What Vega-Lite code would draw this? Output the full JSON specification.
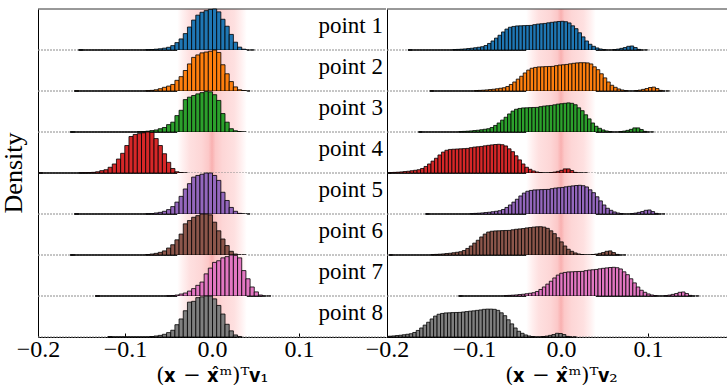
{
"$schema":"https://vega.github.io/schema/vega-lite/v6.json",
"background":"white",
"padding":{"left":0,"top":8,"right":0,"bottom":0},
"config":{"view":{"stroke":null},"font":"Liberation Serif","axis":{"grid":false}},
"spacing":-24,
"datasets":{
"v1":[
{"p":"point 1","x":-0.1536,"d":0.002},{"p":"point 1","x":-0.0768,"d":0.008},{"p":"point 1","x":-0.072,"d":0.012},{"p":"point 1","x":-0.0672,"d":0.02},{"p":"point 1","x":-0.0624,"d":0.03},{"p":"point 1","x":-0.0576,"d":0.045},{"p":"point 1","x":-0.0528,"d":0.066},{"p":"point 1","x":-0.048,"d":0.107},{"p":"point 1","x":-0.0432,"d":0.18},{"p":"point 1","x":-0.0384,"d":0.27},{"p":"point 1","x":-0.0336,"d":0.4},{"p":"point 1","x":-0.0288,"d":0.56},{"p":"point 1","x":-0.024,"d":0.73},{"p":"point 1","x":-0.0192,"d":0.85},{"p":"point 1","x":-0.0144,"d":0.92},{"p":"point 1","x":-0.0096,"d":0.96},{"p":"point 1","x":-0.0048,"d":0.99},{"p":"point 1","x":0,"d":1.0},{"p":"point 1","x":0.0048,"d":0.93},{"p":"point 1","x":0.0096,"d":0.75},{"p":"point 1","x":0.0144,"d":0.58},{"p":"point 1","x":0.0192,"d":0.38},{"p":"point 1","x":0.024,"d":0.19},{"p":"point 1","x":0.0288,"d":0.07},{"p":"point 1","x":0.0336,"d":0.02},{"p":"point 1","x":0.0432,"d":0.002},
{"p":"point 2","x":-0.1584,"d":0.002},{"p":"point 2","x":-0.0768,"d":0.008},{"p":"point 2","x":-0.072,"d":0.015},{"p":"point 2","x":-0.0672,"d":0.03},{"p":"point 2","x":-0.0624,"d":0.056},{"p":"point 2","x":-0.0576,"d":0.09},{"p":"point 2","x":-0.0528,"d":0.12},{"p":"point 2","x":-0.048,"d":0.16},{"p":"point 2","x":-0.0432,"d":0.26},{"p":"point 2","x":-0.0384,"d":0.35},{"p":"point 2","x":-0.0336,"d":0.5},{"p":"point 2","x":-0.0288,"d":0.66},{"p":"point 2","x":-0.024,"d":0.82},{"p":"point 2","x":-0.0192,"d":0.88},{"p":"point 2","x":-0.0144,"d":0.93},{"p":"point 2","x":-0.0096,"d":0.95},{"p":"point 2","x":-0.0048,"d":0.97},{"p":"point 2","x":0,"d":1.0},{"p":"point 2","x":0.0048,"d":0.94},{"p":"point 2","x":0.0096,"d":0.64},{"p":"point 2","x":0.0144,"d":0.42},{"p":"point 2","x":0.0192,"d":0.23},{"p":"point 2","x":0.024,"d":0.1},{"p":"point 2","x":0.0288,"d":0.03},{"p":"point 2","x":0.0336,"d":0.008},{"p":"point 2","x":0.0384,"d":0.002},
{"p":"point 3","x":-0.1632,"d":0.002},{"p":"point 3","x":-0.0864,"d":0.006},{"p":"point 3","x":-0.0816,"d":0.012},{"p":"point 3","x":-0.0768,"d":0.02},{"p":"point 3","x":-0.072,"d":0.035},{"p":"point 3","x":-0.0672,"d":0.05},{"p":"point 3","x":-0.0624,"d":0.08},{"p":"point 3","x":-0.0576,"d":0.11},{"p":"point 3","x":-0.0528,"d":0.18},{"p":"point 3","x":-0.048,"d":0.24},{"p":"point 3","x":-0.0432,"d":0.4},{"p":"point 3","x":-0.0384,"d":0.53},{"p":"point 3","x":-0.0336,"d":0.79},{"p":"point 3","x":-0.0288,"d":0.85},{"p":"point 3","x":-0.024,"d":0.89},{"p":"point 3","x":-0.0192,"d":0.93},{"p":"point 3","x":-0.0144,"d":0.96},{"p":"point 3","x":-0.0096,"d":0.99},{"p":"point 3","x":-0.0048,"d":0.98},{"p":"point 3","x":0,"d":0.91},{"p":"point 3","x":0.0048,"d":0.77},{"p":"point 3","x":0.0096,"d":0.45},{"p":"point 3","x":0.0144,"d":0.24},{"p":"point 3","x":0.0192,"d":0.08},{"p":"point 3","x":0.024,"d":0.03},{"p":"point 3","x":0.0288,"d":0.008},{"p":"point 3","x":0.0336,"d":0.002},
{"p":"point 4","x":-0.2,"d":0.002},{"p":"point 4","x":-0.1536,"d":0.004},{"p":"point 4","x":-0.1488,"d":0.006},{"p":"point 4","x":-0.144,"d":0.01},{"p":"point 4","x":-0.1392,"d":0.016},{"p":"point 4","x":-0.1344,"d":0.03},{"p":"point 4","x":-0.1296,"d":0.057},{"p":"point 4","x":-0.1248,"d":0.08},{"p":"point 4","x":-0.12,"d":0.14},{"p":"point 4","x":-0.1152,"d":0.22},{"p":"point 4","x":-0.1104,"d":0.34},{"p":"point 4","x":-0.1056,"d":0.48},{"p":"point 4","x":-0.1008,"d":0.67},{"p":"point 4","x":-0.096,"d":0.89},{"p":"point 4","x":-0.0912,"d":0.94},{"p":"point 4","x":-0.0864,"d":0.96},{"p":"point 4","x":-0.0816,"d":0.98},{"p":"point 4","x":-0.0768,"d":1.0},{"p":"point 4","x":-0.072,"d":0.99},{"p":"point 4","x":-0.0672,"d":0.84},{"p":"point 4","x":-0.0624,"d":0.67},{"p":"point 4","x":-0.0576,"d":0.47},{"p":"point 4","x":-0.0528,"d":0.26},{"p":"point 4","x":-0.048,"d":0.11},{"p":"point 4","x":-0.0432,"d":0.03},{"p":"point 4","x":-0.0384,"d":0.008},{"p":"point 4","x":-0.0336,"d":0.002},
{"p":"point 5","x":-0.1584,"d":0.002},{"p":"point 5","x":-0.0768,"d":0.005},{"p":"point 5","x":-0.072,"d":0.01},{"p":"point 5","x":-0.0672,"d":0.025},{"p":"point 5","x":-0.0624,"d":0.04},{"p":"point 5","x":-0.0576,"d":0.066},{"p":"point 5","x":-0.0528,"d":0.107},{"p":"point 5","x":-0.048,"d":0.18},{"p":"point 5","x":-0.0432,"d":0.29},{"p":"point 5","x":-0.0384,"d":0.43},{"p":"point 5","x":-0.0336,"d":0.61},{"p":"point 5","x":-0.0288,"d":0.74},{"p":"point 5","x":-0.024,"d":0.9},{"p":"point 5","x":-0.0192,"d":0.94},{"p":"point 5","x":-0.0144,"d":0.97},{"p":"point 5","x":-0.0096,"d":1.0},{"p":"point 5","x":-0.0048,"d":1.0},{"p":"point 5","x":0,"d":0.94},{"p":"point 5","x":0.0048,"d":0.82},{"p":"point 5","x":0.0096,"d":0.53},{"p":"point 5","x":0.0144,"d":0.33},{"p":"point 5","x":0.0192,"d":0.16},{"p":"point 5","x":0.024,"d":0.066},{"p":"point 5","x":0.0288,"d":0.016},{"p":"point 5","x":0.0384,"d":0.002},
{"p":"point 6","x":-0.1632,"d":0.002},{"p":"point 6","x":-0.0768,"d":0.012},{"p":"point 6","x":-0.072,"d":0.024},{"p":"point 6","x":-0.0672,"d":0.04},{"p":"point 6","x":-0.0624,"d":0.065},{"p":"point 6","x":-0.0576,"d":0.1},{"p":"point 6","x":-0.0528,"d":0.17},{"p":"point 6","x":-0.048,"d":0.25},{"p":"point 6","x":-0.0432,"d":0.37},{"p":"point 6","x":-0.0384,"d":0.51},{"p":"point 6","x":-0.0336,"d":0.76},{"p":"point 6","x":-0.0288,"d":0.84},{"p":"point 6","x":-0.024,"d":0.92},{"p":"point 6","x":-0.0192,"d":0.96},{"p":"point 6","x":-0.0144,"d":1.0},{"p":"point 6","x":-0.0096,"d":1.0},{"p":"point 6","x":-0.0048,"d":0.98},{"p":"point 6","x":0,"d":0.8},{"p":"point 6","x":0.0048,"d":0.59},{"p":"point 6","x":0.0096,"d":0.39},{"p":"point 6","x":0.0144,"d":0.23},{"p":"point 6","x":0.0192,"d":0.09},{"p":"point 6","x":0.024,"d":0.024},{"p":"point 6","x":0.0336,"d":0.002},
{"p":"point 7","x":-0.1344,"d":0.002},{"p":"point 7","x":-0.0528,"d":0.006},{"p":"point 7","x":-0.048,"d":0.012},{"p":"point 7","x":-0.0432,"d":0.024},{"p":"point 7","x":-0.0384,"d":0.048},{"p":"point 7","x":-0.0336,"d":0.073},{"p":"point 7","x":-0.0288,"d":0.12},{"p":"point 7","x":-0.024,"d":0.18},{"p":"point 7","x":-0.0192,"d":0.26},{"p":"point 7","x":-0.0144,"d":0.34},{"p":"point 7","x":-0.0096,"d":0.54},{"p":"point 7","x":-0.0048,"d":0.68},{"p":"point 7","x":0,"d":0.82},{"p":"point 7","x":0.0048,"d":0.86},{"p":"point 7","x":0.0096,"d":0.93},{"p":"point 7","x":0.0144,"d":0.96},{"p":"point 7","x":0.0192,"d":1.0},{"p":"point 7","x":0.024,"d":0.99},{"p":"point 7","x":0.0288,"d":0.93},{"p":"point 7","x":0.0336,"d":0.62},{"p":"point 7","x":0.0384,"d":0.42},{"p":"point 7","x":0.0432,"d":0.22},{"p":"point 7","x":0.048,"d":0.1},{"p":"point 7","x":0.0528,"d":0.024},{"p":"point 7","x":0.0624,"d":0.002},
{"p":"point 8","x":-0.12,"d":0.002},{"p":"point 8","x":-0.072,"d":0.012},{"p":"point 8","x":-0.0672,"d":0.025},{"p":"point 8","x":-0.0624,"d":0.04},{"p":"point 8","x":-0.0576,"d":0.066},{"p":"point 8","x":-0.0528,"d":0.107},{"p":"point 8","x":-0.048,"d":0.165},{"p":"point 8","x":-0.0432,"d":0.3},{"p":"point 8","x":-0.0384,"d":0.44},{"p":"point 8","x":-0.0336,"d":0.64},{"p":"point 8","x":-0.0288,"d":0.85},{"p":"point 8","x":-0.024,"d":0.87},{"p":"point 8","x":-0.0192,"d":0.96},{"p":"point 8","x":-0.0144,"d":0.98},{"p":"point 8","x":-0.0096,"d":1.0},{"p":"point 8","x":-0.0048,"d":1.0},{"p":"point 8","x":0,"d":0.93},{"p":"point 8","x":0.0048,"d":0.77},{"p":"point 8","x":0.0096,"d":0.56},{"p":"point 8","x":0.0144,"d":0.31},{"p":"point 8","x":0.0192,"d":0.15},{"p":"point 8","x":0.024,"d":0.05},{"p":"point 8","x":0.0288,"d":0.01}
],
"v2":[
{"p":"point 1","x":-0.176,"d":0.002},{"p":"point 1","x":-0.125,"d":0.01},{"p":"point 1","x":-0.121,"d":0.015},{"p":"point 1","x":-0.117,"d":0.02},{"p":"point 1","x":-0.113,"d":0.026},{"p":"point 1","x":-0.109,"d":0.036},{"p":"point 1","x":-0.105,"d":0.043},{"p":"point 1","x":-0.101,"d":0.055},{"p":"point 1","x":-0.097,"d":0.067},{"p":"point 1","x":-0.093,"d":0.08},{"p":"point 1","x":-0.089,"d":0.11},{"p":"point 1","x":-0.085,"d":0.16},{"p":"point 1","x":-0.081,"d":0.22},{"p":"point 1","x":-0.077,"d":0.29},{"p":"point 1","x":-0.073,"d":0.36},{"p":"point 1","x":-0.069,"d":0.44},{"p":"point 1","x":-0.065,"d":0.51},{"p":"point 1","x":-0.061,"d":0.555},{"p":"point 1","x":-0.057,"d":0.575},{"p":"point 1","x":-0.053,"d":0.587},{"p":"point 1","x":-0.049,"d":0.59},{"p":"point 1","x":-0.045,"d":0.595},{"p":"point 1","x":-0.041,"d":0.598},{"p":"point 1","x":-0.037,"d":0.6},{"p":"point 1","x":-0.033,"d":0.618},{"p":"point 1","x":-0.029,"d":0.632},{"p":"point 1","x":-0.025,"d":0.64},{"p":"point 1","x":-0.021,"d":0.648},{"p":"point 1","x":-0.017,"d":0.663},{"p":"point 1","x":-0.013,"d":0.675},{"p":"point 1","x":-0.009,"d":0.685},{"p":"point 1","x":-0.005,"d":0.695},{"p":"point 1","x":-0.001,"d":0.7},{"p":"point 1","x":0.003,"d":0.69},{"p":"point 1","x":0.007,"d":0.66},{"p":"point 1","x":0.011,"d":0.59},{"p":"point 1","x":0.015,"d":0.52},{"p":"point 1","x":0.019,"d":0.42},{"p":"point 1","x":0.023,"d":0.32},{"p":"point 1","x":0.027,"d":0.22},{"p":"point 1","x":0.031,"d":0.14},{"p":"point 1","x":0.035,"d":0.09},{"p":"point 1","x":0.039,"d":0.05},{"p":"point 1","x":0.043,"d":0.025},{"p":"point 1","x":0.047,"d":0.01},{"p":"point 1","x":0.059,"d":0.01},{"p":"point 1","x":0.063,"d":0.022},{"p":"point 1","x":0.067,"d":0.04},{"p":"point 1","x":0.071,"d":0.06},{"p":"point 1","x":0.075,"d":0.09},{"p":"point 1","x":0.079,"d":0.098},{"p":"point 1","x":0.083,"d":0.06},{"p":"point 1","x":0.087,"d":0.015},{"p":"point 1","x":0.095,"d":0.002},
{"p":"point 2","x":-0.151,"d":0.002},{"p":"point 2","x":-0.1,"d":0.01},{"p":"point 2","x":-0.096,"d":0.015},{"p":"point 2","x":-0.092,"d":0.02},{"p":"point 2","x":-0.088,"d":0.026},{"p":"point 2","x":-0.084,"d":0.036},{"p":"point 2","x":-0.08,"d":0.043},{"p":"point 2","x":-0.076,"d":0.055},{"p":"point 2","x":-0.072,"d":0.067},{"p":"point 2","x":-0.068,"d":0.08},{"p":"point 2","x":-0.064,"d":0.11},{"p":"point 2","x":-0.06,"d":0.16},{"p":"point 2","x":-0.056,"d":0.22},{"p":"point 2","x":-0.052,"d":0.29},{"p":"point 2","x":-0.048,"d":0.36},{"p":"point 2","x":-0.044,"d":0.44},{"p":"point 2","x":-0.04,"d":0.51},{"p":"point 2","x":-0.036,"d":0.555},{"p":"point 2","x":-0.032,"d":0.575},{"p":"point 2","x":-0.028,"d":0.587},{"p":"point 2","x":-0.024,"d":0.59},{"p":"point 2","x":-0.02,"d":0.595},{"p":"point 2","x":-0.016,"d":0.598},{"p":"point 2","x":-0.012,"d":0.6},{"p":"point 2","x":-0.008,"d":0.618},{"p":"point 2","x":-0.004,"d":0.632},{"p":"point 2","x":0,"d":0.64},{"p":"point 2","x":0.004,"d":0.648},{"p":"point 2","x":0.008,"d":0.663},{"p":"point 2","x":0.012,"d":0.675},{"p":"point 2","x":0.016,"d":0.685},{"p":"point 2","x":0.02,"d":0.69},{"p":"point 2","x":0.024,"d":0.69},{"p":"point 2","x":0.028,"d":0.685},{"p":"point 2","x":0.032,"d":0.66},{"p":"point 2","x":0.036,"d":0.59},{"p":"point 2","x":0.04,"d":0.52},{"p":"point 2","x":0.044,"d":0.42},{"p":"point 2","x":0.048,"d":0.32},{"p":"point 2","x":0.052,"d":0.22},{"p":"point 2","x":0.056,"d":0.14},{"p":"point 2","x":0.06,"d":0.09},{"p":"point 2","x":0.064,"d":0.05},{"p":"point 2","x":0.068,"d":0.025},{"p":"point 2","x":0.072,"d":0.01},{"p":"point 2","x":0.084,"d":0.01},{"p":"point 2","x":0.088,"d":0.022},{"p":"point 2","x":0.092,"d":0.04},{"p":"point 2","x":0.096,"d":0.06},{"p":"point 2","x":0.1,"d":0.085},{"p":"point 2","x":0.104,"d":0.095},{"p":"point 2","x":0.108,"d":0.06},{"p":"point 2","x":0.112,"d":0.015},{"p":"point 2","x":0.12,"d":0.002},
{"p":"point 3","x":-0.164,"d":0.002},{"p":"point 3","x":-0.118,"d":0.01},{"p":"point 3","x":-0.114,"d":0.015},{"p":"point 3","x":-0.11,"d":0.02},{"p":"point 3","x":-0.106,"d":0.026},{"p":"point 3","x":-0.102,"d":0.036},{"p":"point 3","x":-0.098,"d":0.043},{"p":"point 3","x":-0.094,"d":0.055},{"p":"point 3","x":-0.09,"d":0.067},{"p":"point 3","x":-0.086,"d":0.08},{"p":"point 3","x":-0.082,"d":0.11},{"p":"point 3","x":-0.078,"d":0.16},{"p":"point 3","x":-0.074,"d":0.22},{"p":"point 3","x":-0.07,"d":0.29},{"p":"point 3","x":-0.066,"d":0.36},{"p":"point 3","x":-0.062,"d":0.44},{"p":"point 3","x":-0.058,"d":0.51},{"p":"point 3","x":-0.054,"d":0.555},{"p":"point 3","x":-0.05,"d":0.575},{"p":"point 3","x":-0.046,"d":0.587},{"p":"point 3","x":-0.042,"d":0.59},{"p":"point 3","x":-0.038,"d":0.595},{"p":"point 3","x":-0.034,"d":0.598},{"p":"point 3","x":-0.03,"d":0.6},{"p":"point 3","x":-0.026,"d":0.618},{"p":"point 3","x":-0.022,"d":0.632},{"p":"point 3","x":-0.018,"d":0.64},{"p":"point 3","x":-0.014,"d":0.648},{"p":"point 3","x":-0.01,"d":0.663},{"p":"point 3","x":-0.006,"d":0.68},{"p":"point 3","x":-0.002,"d":0.69},{"p":"point 3","x":0.002,"d":0.7},{"p":"point 3","x":0.006,"d":0.71},{"p":"point 3","x":0.01,"d":0.7},{"p":"point 3","x":0.014,"d":0.665},{"p":"point 3","x":0.018,"d":0.59},{"p":"point 3","x":0.022,"d":0.52},{"p":"point 3","x":0.026,"d":0.42},{"p":"point 3","x":0.03,"d":0.32},{"p":"point 3","x":0.034,"d":0.22},{"p":"point 3","x":0.038,"d":0.14},{"p":"point 3","x":0.042,"d":0.09},{"p":"point 3","x":0.046,"d":0.05},{"p":"point 3","x":0.05,"d":0.025},{"p":"point 3","x":0.054,"d":0.01},{"p":"point 3","x":0.066,"d":0.01},{"p":"point 3","x":0.07,"d":0.022},{"p":"point 3","x":0.074,"d":0.04},{"p":"point 3","x":0.078,"d":0.065},{"p":"point 3","x":0.082,"d":0.1},{"p":"point 3","x":0.086,"d":0.1},{"p":"point 3","x":0.09,"d":0.06},{"p":"point 3","x":0.094,"d":0.015},{"p":"point 3","x":0.102,"d":0.002},
{"p":"point 4","x":-0.2,"d":0.002},{"p":"point 4","x":-0.198,"d":0.01},{"p":"point 4","x":-0.194,"d":0.015},{"p":"point 4","x":-0.19,"d":0.02},{"p":"point 4","x":-0.186,"d":0.026},{"p":"point 4","x":-0.182,"d":0.036},{"p":"point 4","x":-0.178,"d":0.043},{"p":"point 4","x":-0.174,"d":0.055},{"p":"point 4","x":-0.17,"d":0.067},{"p":"point 4","x":-0.166,"d":0.08},{"p":"point 4","x":-0.162,"d":0.11},{"p":"point 4","x":-0.158,"d":0.16},{"p":"point 4","x":-0.154,"d":0.22},{"p":"point 4","x":-0.15,"d":0.29},{"p":"point 4","x":-0.146,"d":0.36},{"p":"point 4","x":-0.142,"d":0.44},{"p":"point 4","x":-0.138,"d":0.51},{"p":"point 4","x":-0.134,"d":0.555},{"p":"point 4","x":-0.13,"d":0.575},{"p":"point 4","x":-0.126,"d":0.58},{"p":"point 4","x":-0.122,"d":0.585},{"p":"point 4","x":-0.118,"d":0.59},{"p":"point 4","x":-0.114,"d":0.595},{"p":"point 4","x":-0.11,"d":0.6},{"p":"point 4","x":-0.106,"d":0.618},{"p":"point 4","x":-0.102,"d":0.632},{"p":"point 4","x":-0.098,"d":0.64},{"p":"point 4","x":-0.094,"d":0.648},{"p":"point 4","x":-0.09,"d":0.663},{"p":"point 4","x":-0.086,"d":0.675},{"p":"point 4","x":-0.082,"d":0.685},{"p":"point 4","x":-0.078,"d":0.695},{"p":"point 4","x":-0.074,"d":0.7},{"p":"point 4","x":-0.07,"d":0.69},{"p":"point 4","x":-0.066,"d":0.66},{"p":"point 4","x":-0.062,"d":0.59},{"p":"point 4","x":-0.058,"d":0.52},{"p":"point 4","x":-0.054,"d":0.42},{"p":"point 4","x":-0.05,"d":0.32},{"p":"point 4","x":-0.046,"d":0.22},{"p":"point 4","x":-0.042,"d":0.14},{"p":"point 4","x":-0.038,"d":0.09},{"p":"point 4","x":-0.034,"d":0.05},{"p":"point 4","x":-0.03,"d":0.025},{"p":"point 4","x":-0.026,"d":0.01},{"p":"point 4","x":-0.014,"d":0.01},{"p":"point 4","x":-0.01,"d":0.022},{"p":"point 4","x":-0.006,"d":0.04},{"p":"point 4","x":-0.002,"d":0.065},{"p":"point 4","x":0.002,"d":0.1},{"p":"point 4","x":0.006,"d":0.1},{"p":"point 4","x":0.01,"d":0.06},{"p":"point 4","x":0.014,"d":0.015},{"p":"point 4","x":0.026,"d":0.002},
{"p":"point 5","x":-0.156,"d":0.002},{"p":"point 5","x":-0.105,"d":0.01},{"p":"point 5","x":-0.101,"d":0.015},{"p":"point 5","x":-0.097,"d":0.02},{"p":"point 5","x":-0.093,"d":0.026},{"p":"point 5","x":-0.089,"d":0.036},{"p":"point 5","x":-0.085,"d":0.043},{"p":"point 5","x":-0.081,"d":0.055},{"p":"point 5","x":-0.077,"d":0.067},{"p":"point 5","x":-0.073,"d":0.08},{"p":"point 5","x":-0.069,"d":0.11},{"p":"point 5","x":-0.065,"d":0.16},{"p":"point 5","x":-0.061,"d":0.22},{"p":"point 5","x":-0.057,"d":0.29},{"p":"point 5","x":-0.053,"d":0.36},{"p":"point 5","x":-0.049,"d":0.44},{"p":"point 5","x":-0.045,"d":0.51},{"p":"point 5","x":-0.041,"d":0.555},{"p":"point 5","x":-0.037,"d":0.575},{"p":"point 5","x":-0.033,"d":0.587},{"p":"point 5","x":-0.029,"d":0.59},{"p":"point 5","x":-0.025,"d":0.595},{"p":"point 5","x":-0.021,"d":0.598},{"p":"point 5","x":-0.017,"d":0.6},{"p":"point 5","x":-0.013,"d":0.618},{"p":"point 5","x":-0.009,"d":0.632},{"p":"point 5","x":-0.005,"d":0.64},{"p":"point 5","x":-0.001,"d":0.648},{"p":"point 5","x":0.003,"d":0.663},{"p":"point 5","x":0.007,"d":0.675},{"p":"point 5","x":0.011,"d":0.685},{"p":"point 5","x":0.015,"d":0.695},{"p":"point 5","x":0.019,"d":0.7},{"p":"point 5","x":0.023,"d":0.69},{"p":"point 5","x":0.027,"d":0.66},{"p":"point 5","x":0.031,"d":0.59},{"p":"point 5","x":0.035,"d":0.52},{"p":"point 5","x":0.039,"d":0.42},{"p":"point 5","x":0.043,"d":0.32},{"p":"point 5","x":0.047,"d":0.22},{"p":"point 5","x":0.051,"d":0.14},{"p":"point 5","x":0.055,"d":0.09},{"p":"point 5","x":0.059,"d":0.05},{"p":"point 5","x":0.063,"d":0.025},{"p":"point 5","x":0.067,"d":0.01},{"p":"point 5","x":0.079,"d":0.01},{"p":"point 5","x":0.083,"d":0.022},{"p":"point 5","x":0.087,"d":0.04},{"p":"point 5","x":0.091,"d":0.06},{"p":"point 5","x":0.095,"d":0.09},{"p":"point 5","x":0.099,"d":0.098},{"p":"point 5","x":0.103,"d":0.06},{"p":"point 5","x":0.107,"d":0.015},{"p":"point 5","x":0.115,"d":0.002},
{"p":"point 6","x":-0.198,"d":0.002},{"p":"point 6","x":-0.15,"d":0.01},{"p":"point 6","x":-0.146,"d":0.015},{"p":"point 6","x":-0.142,"d":0.02},{"p":"point 6","x":-0.138,"d":0.026},{"p":"point 6","x":-0.134,"d":0.036},{"p":"point 6","x":-0.13,"d":0.043},{"p":"point 6","x":-0.126,"d":0.055},{"p":"point 6","x":-0.122,"d":0.067},{"p":"point 6","x":-0.118,"d":0.08},{"p":"point 6","x":-0.114,"d":0.11},{"p":"point 6","x":-0.11,"d":0.16},{"p":"point 6","x":-0.106,"d":0.22},{"p":"point 6","x":-0.102,"d":0.29},{"p":"point 6","x":-0.098,"d":0.36},{"p":"point 6","x":-0.094,"d":0.44},{"p":"point 6","x":-0.09,"d":0.51},{"p":"point 6","x":-0.086,"d":0.56},{"p":"point 6","x":-0.082,"d":0.58},{"p":"point 6","x":-0.078,"d":0.587},{"p":"point 6","x":-0.074,"d":0.59},{"p":"point 6","x":-0.07,"d":0.595},{"p":"point 6","x":-0.066,"d":0.598},{"p":"point 6","x":-0.062,"d":0.6},{"p":"point 6","x":-0.058,"d":0.615},{"p":"point 6","x":-0.054,"d":0.628},{"p":"point 6","x":-0.05,"d":0.636},{"p":"point 6","x":-0.046,"d":0.645},{"p":"point 6","x":-0.042,"d":0.66},{"p":"point 6","x":-0.038,"d":0.67},{"p":"point 6","x":-0.034,"d":0.68},{"p":"point 6","x":-0.03,"d":0.688},{"p":"point 6","x":-0.026,"d":0.69},{"p":"point 6","x":-0.022,"d":0.68},{"p":"point 6","x":-0.018,"d":0.65},{"p":"point 6","x":-0.014,"d":0.59},{"p":"point 6","x":-0.01,"d":0.52},{"p":"point 6","x":-0.006,"d":0.42},{"p":"point 6","x":-0.002,"d":0.32},{"p":"point 6","x":0.002,"d":0.22},{"p":"point 6","x":0.006,"d":0.14},{"p":"point 6","x":0.01,"d":0.09},{"p":"point 6","x":0.014,"d":0.05},{"p":"point 6","x":0.018,"d":0.025},{"p":"point 6","x":0.022,"d":0.01},{"p":"point 6","x":0.034,"d":0.01},{"p":"point 6","x":0.038,"d":0.022},{"p":"point 6","x":0.042,"d":0.04},{"p":"point 6","x":0.046,"d":0.06},{"p":"point 6","x":0.05,"d":0.09},{"p":"point 6","x":0.054,"d":0.1},{"p":"point 6","x":0.058,"d":0.06},{"p":"point 6","x":0.062,"d":0.015},{"p":"point 6","x":0.07,"d":0.002},
{"p":"point 7","x":-0.118,"d":0.002},{"p":"point 7","x":-0.066,"d":0.01},{"p":"point 7","x":-0.062,"d":0.015},{"p":"point 7","x":-0.058,"d":0.02},{"p":"point 7","x":-0.054,"d":0.026},{"p":"point 7","x":-0.05,"d":0.036},{"p":"point 7","x":-0.046,"d":0.043},{"p":"point 7","x":-0.042,"d":0.055},{"p":"point 7","x":-0.038,"d":0.067},{"p":"point 7","x":-0.034,"d":0.08},{"p":"point 7","x":-0.03,"d":0.11},{"p":"point 7","x":-0.026,"d":0.16},{"p":"point 7","x":-0.022,"d":0.22},{"p":"point 7","x":-0.018,"d":0.29},{"p":"point 7","x":-0.014,"d":0.36},{"p":"point 7","x":-0.01,"d":0.44},{"p":"point 7","x":-0.006,"d":0.51},{"p":"point 7","x":-0.002,"d":0.555},{"p":"point 7","x":0.002,"d":0.575},{"p":"point 7","x":0.006,"d":0.587},{"p":"point 7","x":0.01,"d":0.59},{"p":"point 7","x":0.014,"d":0.595},{"p":"point 7","x":0.018,"d":0.598},{"p":"point 7","x":0.022,"d":0.6},{"p":"point 7","x":0.026,"d":0.618},{"p":"point 7","x":0.03,"d":0.632},{"p":"point 7","x":0.034,"d":0.64},{"p":"point 7","x":0.038,"d":0.648},{"p":"point 7","x":0.042,"d":0.663},{"p":"point 7","x":0.046,"d":0.675},{"p":"point 7","x":0.05,"d":0.685},{"p":"point 7","x":0.054,"d":0.695},{"p":"point 7","x":0.058,"d":0.7},{"p":"point 7","x":0.062,"d":0.69},{"p":"point 7","x":0.066,"d":0.66},{"p":"point 7","x":0.07,"d":0.59},{"p":"point 7","x":0.074,"d":0.52},{"p":"point 7","x":0.078,"d":0.42},{"p":"point 7","x":0.082,"d":0.32},{"p":"point 7","x":0.086,"d":0.22},{"p":"point 7","x":0.09,"d":0.14},{"p":"point 7","x":0.094,"d":0.09},{"p":"point 7","x":0.098,"d":0.05},{"p":"point 7","x":0.102,"d":0.025},{"p":"point 7","x":0.106,"d":0.01},{"p":"point 7","x":0.118,"d":0.01},{"p":"point 7","x":0.122,"d":0.022},{"p":"point 7","x":0.126,"d":0.04},{"p":"point 7","x":0.13,"d":0.06},{"p":"point 7","x":0.134,"d":0.09},{"p":"point 7","x":0.138,"d":0.098},{"p":"point 7","x":0.142,"d":0.06},{"p":"point 7","x":0.146,"d":0.015},{"p":"point 7","x":0.154,"d":0.002},
{"p":"point 8","x":-0.2,"d":0.002},{"p":"point 8","x":-0.199,"d":0.02},{"p":"point 8","x":-0.195,"d":0.026},{"p":"point 8","x":-0.191,"d":0.036},{"p":"point 8","x":-0.187,"d":0.043},{"p":"point 8","x":-0.183,"d":0.055},{"p":"point 8","x":-0.179,"d":0.067},{"p":"point 8","x":-0.175,"d":0.08},{"p":"point 8","x":-0.171,"d":0.11},{"p":"point 8","x":-0.167,"d":0.16},{"p":"point 8","x":-0.163,"d":0.22},{"p":"point 8","x":-0.159,"d":0.29},{"p":"point 8","x":-0.155,"d":0.36},{"p":"point 8","x":-0.151,"d":0.44},{"p":"point 8","x":-0.147,"d":0.51},{"p":"point 8","x":-0.143,"d":0.555},{"p":"point 8","x":-0.139,"d":0.575},{"p":"point 8","x":-0.135,"d":0.587},{"p":"point 8","x":-0.131,"d":0.59},{"p":"point 8","x":-0.127,"d":0.595},{"p":"point 8","x":-0.123,"d":0.598},{"p":"point 8","x":-0.119,"d":0.6},{"p":"point 8","x":-0.115,"d":0.61},{"p":"point 8","x":-0.111,"d":0.62},{"p":"point 8","x":-0.107,"d":0.63},{"p":"point 8","x":-0.103,"d":0.638},{"p":"point 8","x":-0.099,"d":0.65},{"p":"point 8","x":-0.095,"d":0.66},{"p":"point 8","x":-0.091,"d":0.675},{"p":"point 8","x":-0.087,"d":0.68},{"p":"point 8","x":-0.083,"d":0.68},{"p":"point 8","x":-0.079,"d":0.675},{"p":"point 8","x":-0.075,"d":0.65},{"p":"point 8","x":-0.071,"d":0.59},{"p":"point 8","x":-0.067,"d":0.52},{"p":"point 8","x":-0.063,"d":0.42},{"p":"point 8","x":-0.059,"d":0.32},{"p":"point 8","x":-0.055,"d":0.22},{"p":"point 8","x":-0.051,"d":0.14},{"p":"point 8","x":-0.047,"d":0.09},{"p":"point 8","x":-0.043,"d":0.05},{"p":"point 8","x":-0.039,"d":0.025},{"p":"point 8","x":-0.035,"d":0.01},{"p":"point 8","x":-0.023,"d":0.01},{"p":"point 8","x":-0.019,"d":0.022},{"p":"point 8","x":-0.015,"d":0.04},{"p":"point 8","x":-0.011,"d":0.06},{"p":"point 8","x":-0.007,"d":0.09},{"p":"point 8","x":-0.003,"d":0.085},{"p":"point 8","x":0.001,"d":0.06},{"p":"point 8","x":0.005,"d":0.015},{"p":"point 8","x":0.013,"d":0.002}
]
},
"hconcat":[
{
"data":{"name":"v1"},
"spacing":0,
"bounds":"flush",
"facet":{"row":{"field":"p","type":"nominal","title":"Density","header":{"labels":false,"titleFont":"Liberation Serif","titleFontSize":26,"titleFontWeight":"normal","titleColor":"black","titlePadding":1}}},
"spec":{"width":348,"height":41,"layer":[
{"transform":[{"aggregate":[{"op":"count","as":"n"}],"groupby":["p"]}],
 "mark":{"type":"rect","fill":{"gradient":"linear","x1":0,"x2":1,"y1":0,"y2":0,"stops":[{"offset":0,"color":"#ffffff"},{"offset":0.08,"color":"#fff0f0"},{"offset":0.18,"color":"#fee0e0"},{"offset":0.35,"color":"#fdd6d6"},{"offset":0.45,"color":"#fcc8c8"},{"offset":0.5,"color":"#f9b0b0"},{"offset":0.55,"color":"#fcc8c8"},{"offset":0.65,"color":"#fdd6d6"},{"offset":0.82,"color":"#fee0e0"},{"offset":0.92,"color":"#fff0f0"},{"offset":1,"color":"#ffffff"}]}},
 "encoding":{"x":{"datum":-0.04,"type":"quantitative","scale":{"domain":[-0.2,0.2]}},"x2":{"datum":0.04},"y":{"datum":0,"type":"quantitative","scale":{"domain":[0,1]}},"y2":{"datum":1}}},
{"transform":[{"aggregate":[{"op":"count","as":"n"}],"groupby":["p"]}],
 "mark":{"type":"rule","color":"#8c8c8c","strokeDash":[2,1],"strokeWidth":1},
 "encoding":{"x":{"datum":-0.2,"type":"quantitative"},"x2":{"datum":0.2},"y":{"datum":0,"type":"quantitative"}}},
{"transform":[{"aggregate":[{"op":"count","as":"n"}],"groupby":["p"]},{"filter":"datum.p == 'point 1'"}],
 "mark":{"type":"rule","color":"#333333","strokeWidth":1},
 "encoding":{"x":{"datum":-0.2,"type":"quantitative"},"x2":{"datum":0.2},"y":{"datum":1,"type":"quantitative"}}},
{"transform":[{"aggregate":[{"op":"min","field":"x","as":"lo"},{"op":"max","field":"x","as":"hi"}],"groupby":["p"]}],
 "mark":{"type":"rule","color":"black","strokeWidth":1.3},
 "encoding":{"x":{"field":"lo","type":"quantitative"},"x2":{"field":"hi"},"y":{"datum":0,"type":"quantitative"}}},
{"mark":{"type":"bar","stroke":"black","strokeWidth":0.8,"binSpacing":0,"fillOpacity":1},
 "encoding":{
  "x":{"field":"x","type":"quantitative","bin":{"binned":true,"step":0.0048},"scale":{"domain":[-0.2,0.2]},
   "axis":{"title":"(𝐱 − 𝐱̂ᵐ)ᵀ𝐯₁","values":[-0.2,-0.1,0,0.1],"format":".1f","labelFlush":false,"labelFont":"Liberation Serif","labelFontSize":24,"labelColor":"black","tickColor":"black","tickSize":-4,"domainColor":"black","titleFont":"DejaVu Serif","titleFontSize":21,"titleFontWeight":"normal","titleColor":"black","labelPadding":4,"titlePadding":3}},
  "y":{"field":"d","type":"quantitative","scale":{"domain":[0,1]},"axis":{"labels":false,"ticks":false,"title":null,"domainColor":"black","domainWidth":1,"minExtent":0,"maxExtent":0,"offset":0}},
  "fill":{"field":"p","type":"nominal","scale":{"domain":["point 1","point 2","point 3","point 4","point 5","point 6","point 7","point 8"],"range":["#1f77b4","#ff7f0e","#2ca02c","#d62728","#9467bd","#8c564b","#e377c2","#7f7f7f"]},"legend":null}}},
{"transform":[{"aggregate":[{"op":"count","as":"n"}],"groupby":["p"]}],
 "mark":{"type":"text","align":"right","baseline":"alphabetic","fontSize":23,"font":"Liberation Serif","color":"black","dx":-3},
 "encoding":{"text":{"field":"p"},"x":{"datum":0.2,"type":"quantitative"},"y":{"datum":0.41,"type":"quantitative"}}}
]}
},
{
"data":{"name":"v2"},
"spacing":0,
"bounds":"flush",
"facet":{"row":{"field":"p","type":"nominal","title":null,"header":{"labels":false}}},
"spec":{"width":348,"height":41,"layer":[
{"transform":[{"aggregate":[{"op":"count","as":"n"}],"groupby":["p"]}],
 "mark":{"type":"rect","fill":{"gradient":"linear","x1":0,"x2":1,"y1":0,"y2":0,"stops":[{"offset":0,"color":"#ffffff"},{"offset":0.08,"color":"#fff0f0"},{"offset":0.18,"color":"#fee0e0"},{"offset":0.35,"color":"#fdd6d6"},{"offset":0.45,"color":"#fcc8c8"},{"offset":0.5,"color":"#f9b0b0"},{"offset":0.55,"color":"#fcc8c8"},{"offset":0.65,"color":"#fdd6d6"},{"offset":0.82,"color":"#fee0e0"},{"offset":0.92,"color":"#fff0f0"},{"offset":1,"color":"#ffffff"}]}},
 "encoding":{"x":{"datum":-0.04,"type":"quantitative","scale":{"domain":[-0.2,0.2]}},"x2":{"datum":0.04},"y":{"datum":0,"type":"quantitative","scale":{"domain":[0,1]}},"y2":{"datum":1}}},
{"transform":[{"aggregate":[{"op":"count","as":"n"}],"groupby":["p"]}],
 "mark":{"type":"rule","color":"#8c8c8c","strokeDash":[2,1],"strokeWidth":1},
 "encoding":{"x":{"datum":-0.2,"type":"quantitative"},"x2":{"datum":0.2},"y":{"datum":0,"type":"quantitative"}}},
{"transform":[{"aggregate":[{"op":"count","as":"n"}],"groupby":["p"]},{"filter":"datum.p == 'point 1'"}],
 "mark":{"type":"rule","color":"#333333","strokeWidth":1},
 "encoding":{"x":{"datum":-0.2,"type":"quantitative"},"x2":{"datum":0.2},"y":{"datum":1,"type":"quantitative"}}},
{"transform":[{"aggregate":[{"op":"min","field":"x","as":"lo"},{"op":"max","field":"x","as":"hi"}],"groupby":["p"]}],
 "mark":{"type":"rule","color":"black","strokeWidth":1.3},
 "encoding":{"x":{"field":"lo","type":"quantitative"},"x2":{"field":"hi"},"y":{"datum":0,"type":"quantitative"}}},
{"mark":{"type":"bar","stroke":"black","strokeWidth":0.8,"binSpacing":0,"fillOpacity":1},
 "encoding":{
  "x":{"field":"x","type":"quantitative","bin":{"binned":true,"step":0.004},"scale":{"domain":[-0.2,0.2]},
   "axis":{"title":"(𝐱 − 𝐱̂ᵐ)ᵀ𝐯₂","values":[-0.2,-0.1,0,0.1],"format":".1f","labelFlush":false,"labelFont":"Liberation Serif","labelFontSize":24,"labelColor":"black","tickColor":"black","tickSize":-4,"domainColor":"black","titleFont":"DejaVu Serif","titleFontSize":21,"titleFontWeight":"normal","titleColor":"black","labelPadding":4,"titlePadding":3}},
  "y":{"field":"d","type":"quantitative","scale":{"domain":[0,1]},"axis":{"labels":false,"ticks":false,"title":null,"domainColor":"black","domainWidth":1,"minExtent":0,"maxExtent":0,"offset":0}},
  "fill":{"field":"p","type":"nominal","scale":{"domain":["point 1","point 2","point 3","point 4","point 5","point 6","point 7","point 8"],"range":["#1f77b4","#ff7f0e","#2ca02c","#d62728","#9467bd","#8c564b","#e377c2","#7f7f7f"]},"legend":null}}}
]}
}
]
}
